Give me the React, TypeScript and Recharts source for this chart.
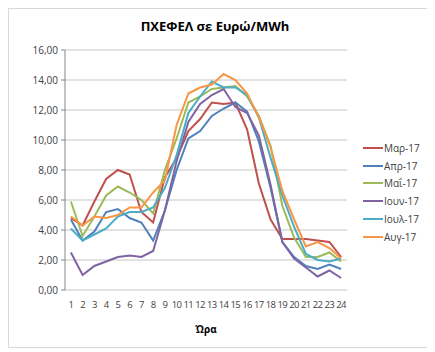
import React from 'react';
import { LineChart, Line, XAxis, YAxis, CartesianGrid } from 'recharts';

const hours = [1, 2, 3, 4, 5, 6, 7, 8, 9, 10, 11, 12, 13, 14, 15, 16, 17, 18, 19, 20, 21, 22, 23, 24];
const tickEdges = [0.5, 1.5, 2.5, 3.5, 4.5, 5.5, 6.5, 7.5, 8.5, 9.5, 10.5, 11.5, 12.5, 13.5, 14.5, 15.5, 16.5, 17.5, 18.5, 19.5, 20.5, 21.5, 22.5, 23.5, 24.5];
const yTicks = [0, 2, 4, 6, 8, 10, 12, 14, 16];

const mar = [4.8, 4.3, 5.9, 7.4, 8.0, 7.7, 5.2, 4.5, 7.5, 8.8, 10.6, 11.4, 12.5, 12.4, 12.5, 10.7, 7.1, 4.7, 3.4, 3.4, 3.4, 3.3, 3.2, 2.2];
const apr = [4.7, 3.3, 3.9, 5.2, 5.4, 4.8, 4.5, 3.3, 5.3, 8.0, 10.1, 10.6, 11.6, 12.1, 12.5, 11.9, 9.9, 6.8, 3.2, 2.2, 1.6, 1.4, 1.7, 1.4];
const may = [5.9, 3.6, 4.9, 6.3, 6.9, 6.5, 6.0, 5.1, 8.0, 10.1, 12.5, 12.9, 13.4, 13.5, 13.6, 12.9, 11.6, 9.6, 5.6, 3.5, 2.2, 2.2, 2.5, 1.9];
const jun = [2.5, 1.0, 1.6, 1.9, 2.2, 2.3, 2.2, 2.6, 5.3, 8.6, 11.2, 12.4, 13.0, 13.4, 12.2, 11.8, 10.3, 7.0, 3.2, 2.1, 1.5, 0.9, 1.3, 0.8];
const jul = [4.1, 3.3, 3.7, 4.1, 4.9, 5.2, 5.2, 5.5, 6.8, 9.0, 11.8, 12.9, 13.9, 13.5, 13.5, 13.0, 11.5, 8.8, 6.3, 4.2, 2.4, 2.0, 1.9, 2.1];
const aug = [4.9, 4.3, 4.9, 4.8, 5.0, 5.5, 5.5, 6.5, 7.3, 11.0, 13.1, 13.5, 13.7, 14.4, 14.0, 13.1, 11.5, 9.5, 6.6, 4.7, 2.9, 3.2, 2.8, 2.1];

const series = [
  { key: 'mar', name: 'Μαρ-17', color: '#C0504D', values: mar },
  { key: 'apr', name: 'Απρ-17', color: '#4F81BD', values: apr },
  { key: 'may', name: 'Μαΐ-17', color: '#9BBB59', values: may },
  { key: 'jun', name: 'Ιουν-17', color: '#8064A2', values: jun },
  { key: 'jul', name: 'Ιουλ-17', color: '#4BACC6', values: jul },
  { key: 'aug', name: 'Αυγ-17', color: '#F79646', values: aug },
];

const data = hours.map((h, i) => {
  const row: Record<string, number> = { hour: h };
  series.forEach(s => { row[s.key] = s.values[i]; });
  return row;
});

const font = '"Open Sans", "DejaVu Sans", sans-serif';
const fmt = (v: number) => v.toFixed(2).replace('.', ',');

export default function App() {
  return (
    <div
      style={{
        position: 'relative',
        width: 420,
        height: 340,
        boxSizing: 'border-box',
        border: '1px solid #d9d9d9',
        background: '#fff',
        fontFamily: font,
      }}
    >
      <div
        style={{
          position: 'absolute',
          top: 8,
          left: 0,
          width: 412,
          textAlign: 'center',
          fontSize: 13,
          fontWeight: 700,
          color: '#000',
        }}
      >
        ΠΧΕΦΕΛ σε Ευρώ/MWh
      </div>

      <LineChart width={418} height={338} data={data} margin={{ top: 41, right: 80, bottom: 12, left: 0 }}>
        <CartesianGrid vertical={false} stroke="#c6c6c6" />
        <XAxis
          xAxisId="edges"
          type="number"
          dataKey="hour"
          domain={[0.5, 24.5]}
          ticks={tickEdges}
          tick={false}
          tickSize={4}
          height={0}
          stroke="#868686"
          axisLine={{ stroke: '#868686' }}
        />
        <XAxis
          xAxisId="labels"
          type="number"
          dataKey="hour"
          domain={[0.5, 24.5]}
          ticks={hours}
          interval={0}
          axisLine={false}
          tickLine={false}
          tickSize={0}
          tickMargin={11}
          height={45}
          tick={{ fontSize: 9.5, fill: '#404040', fontFamily: font, letterSpacing: -0.6 }}
          label={{ value: 'Ώρα', position: 'insideBottom', offset: 2, fontSize: 10, fontWeight: 700, fill: '#000', fontFamily: font }}
        />
        <YAxis
          domain={[0, 16]}
          ticks={yTicks}
          interval={0}
          width={56}
          tickFormatter={fmt}
          tickSize={4}
          tickMargin={3}
          stroke="#868686"
          tick={{ fontSize: 10, fill: '#404040', fontFamily: font }}
        />
        {series.map(s => (
          <Line
            key={s.key}
            xAxisId="labels"
            type="linear"
            dataKey={s.key}
            name={s.name}
            stroke={s.color}
            strokeWidth={2}
            dot={false}
            isAnimationActive={false}
          />
        ))}
      </LineChart>

      <div style={{ position: 'absolute', left: 354, top: 130 }}>
        {series.map(s => (
          <div key={s.key} style={{ display: 'flex', alignItems: 'center', height: 17.8, fontSize: 10, color: '#404040' }}>
            <span style={{ display: 'inline-block', width: 20, height: 2, background: s.color, marginRight: 1 }} />
            <span>{s.name}</span>
          </div>
        ))}
      </div>
    </div>
  );
}
